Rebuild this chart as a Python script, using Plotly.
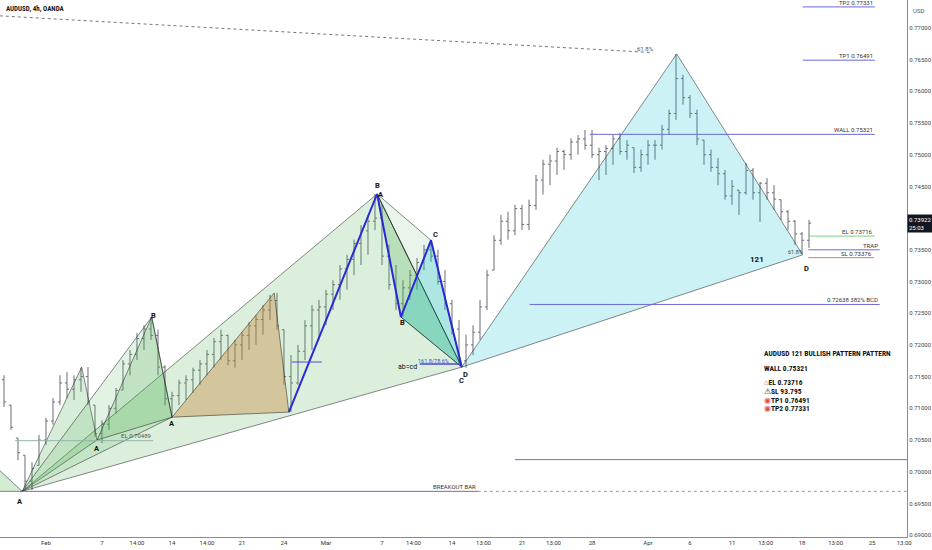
import plotly.graph_objects as go

BAR_IDX = list(range(117))
OPEN = [0.7180, 0.7145, 0.7105, 0.7053, 0.7026, 0.6985, 0.7010, 0.7050, 0.7080, 0.7110,
        0.7140, 0.7130, 0.7145, 0.7150, 0.7105, 0.7060, 0.7075, 0.7100, 0.7129, 0.7170,
        0.7185, 0.7210, 0.7225, 0.7215, 0.7165, 0.7115, 0.7120, 0.7140, 0.7145, 0.7160,
        0.7170, 0.7185, 0.7205, 0.7215, 0.7175, 0.7200, 0.7215, 0.7230, 0.7240, 0.7255,
        0.7270, 0.7224, 0.7150, 0.7140, 0.7190, 0.7230, 0.7255, 0.7260, 0.7280, 0.7295,
        0.7320, 0.7335, 0.7360, 0.7380, 0.7395, 0.7400, 0.7340, 0.7295, 0.7265, 0.7290,
        0.7310, 0.7330, 0.7350, 0.7340, 0.7300, 0.7265, 0.7225, 0.7175, 0.7200, 0.7220,
        0.7260, 0.7318, 0.7365, 0.7395, 0.7380, 0.7415, 0.7390, 0.7420, 0.7460, 0.7485,
        0.7490, 0.7505, 0.7500, 0.7520, 0.7525, 0.7515, 0.7500, 0.7505, 0.7510, 0.7525,
        0.7505, 0.7511, 0.7480, 0.7500, 0.7515, 0.7515, 0.7540, 0.7565, 0.7620, 0.7590,
        0.7565, 0.7523, 0.7500, 0.7480, 0.7470, 0.7435, 0.7444, 0.7440, 0.7475, 0.7440,
        0.7455, 0.7440, 0.7429, 0.7410, 0.7395, 0.7375, 0.7365]
HIGH = [0.7192, 0.7152, 0.7105, 0.7053, 0.7026, 0.7015, 0.7058, 0.7085, 0.7116, 0.7152,
        0.7157, 0.7152, 0.7164, 0.7165, 0.7105, 0.7081, 0.7105, 0.7132, 0.7176, 0.7192,
        0.7219, 0.7231, 0.7244, 0.7224, 0.7168, 0.7126, 0.7145, 0.7152, 0.7164, 0.7176,
        0.7192, 0.7211, 0.7224, 0.7216, 0.7208, 0.7220, 0.7236, 0.7247, 0.7263, 0.7279,
        0.7282, 0.7224, 0.7184, 0.7200, 0.7239, 0.7263, 0.7271, 0.7287, 0.7302, 0.7326,
        0.7342, 0.7366, 0.7389, 0.7405, 0.7438, 0.7421, 0.7358, 0.7326, 0.7302, 0.7318,
        0.7337, 0.7358, 0.7366, 0.7350, 0.7318, 0.7271, 0.7239, 0.7216, 0.7231, 0.7271,
        0.7318, 0.7373, 0.7405, 0.7410, 0.7421, 0.7421, 0.7429, 0.7468, 0.7492, 0.7500,
        0.7511, 0.7508, 0.7526, 0.7531, 0.7539, 0.7539, 0.7511, 0.7515, 0.7531, 0.7534,
        0.7523, 0.7511, 0.7508, 0.7523, 0.7523, 0.7547, 0.7571, 0.7659, 0.7626, 0.7594,
        0.7571, 0.7523, 0.7508, 0.7495, 0.7476, 0.7460, 0.7444, 0.7487, 0.7479, 0.7457,
        0.7463, 0.7452, 0.7429, 0.7413, 0.7397, 0.7378, 0.7397]
LOW = [0.7137, 0.7102, 0.7066, 0.7018, 0.6974, 0.6971, 0.7010, 0.7042, 0.7074, 0.7105,
       0.7116, 0.7113, 0.7126, 0.7105, 0.7055, 0.7045, 0.7066, 0.7092, 0.7129, 0.7152,
       0.7176, 0.7192, 0.7208, 0.7152, 0.7105, 0.7085, 0.7105, 0.7113, 0.7124, 0.7137,
       0.7152, 0.7164, 0.7176, 0.7168, 0.7164, 0.7176, 0.7192, 0.7200, 0.7216, 0.7239,
       0.7224, 0.7137, 0.7094, 0.7137, 0.7176, 0.7192, 0.7208, 0.7231, 0.7255, 0.7271,
       0.7287, 0.7310, 0.7326, 0.7342, 0.7381, 0.7326, 0.7287, 0.7255, 0.7244, 0.7271,
       0.7287, 0.7318, 0.7331, 0.7295, 0.7255, 0.7216, 0.7168, 0.7164, 0.7184, 0.7208,
       0.7255, 0.7318, 0.7358, 0.7366, 0.7373, 0.7381, 0.7381, 0.7413, 0.7437, 0.7452,
       0.7468, 0.7476, 0.7492, 0.7500, 0.7508, 0.7495, 0.7460, 0.7468, 0.7484, 0.7500,
       0.7492, 0.7471, 0.7473, 0.7484, 0.7492, 0.7508, 0.7531, 0.7555, 0.7579, 0.7558,
       0.7515, 0.7484, 0.7473, 0.7452, 0.7429, 0.7421, 0.7405, 0.7437, 0.7429, 0.7394,
       0.7429, 0.7413, 0.7397, 0.7381, 0.7358, 0.7345, 0.7353]
CLOSE = [0.7145, 0.7110, 0.7070, 0.7030, 0.6985, 0.7005, 0.7050, 0.7080, 0.7110, 0.7140,
         0.7130, 0.7145, 0.7150, 0.7110, 0.7060, 0.7075, 0.7100, 0.7128, 0.7170, 0.7185,
         0.7210, 0.7225, 0.7215, 0.7165, 0.7115, 0.7120, 0.7140, 0.7145, 0.7160, 0.7170,
         0.7185, 0.7205, 0.7215, 0.7175, 0.7200, 0.7215, 0.7230, 0.7240, 0.7255, 0.7270,
         0.7230, 0.7150, 0.7140, 0.7190, 0.7230, 0.7255, 0.7260, 0.7280, 0.7295, 0.7320,
         0.7335, 0.7360, 0.7380, 0.7395, 0.7400, 0.7340, 0.7295, 0.7265, 0.7290, 0.7310,
         0.7330, 0.7350, 0.7340, 0.7300, 0.7265, 0.7225, 0.7175, 0.7200, 0.7220, 0.7260,
         0.7310, 0.7365, 0.7395, 0.7380, 0.7415, 0.7390, 0.7420, 0.7460, 0.7485, 0.7490,
         0.7505, 0.7500, 0.7520, 0.7525, 0.7515, 0.7500, 0.7505, 0.7510, 0.7525, 0.7505,
         0.7515, 0.7480, 0.7500, 0.7515, 0.7515, 0.7540, 0.7565, 0.7620, 0.7590, 0.7565,
         0.7525, 0.7500, 0.7480, 0.7470, 0.7435, 0.7450, 0.7440, 0.7475, 0.7440, 0.7455,
         0.7440, 0.7430, 0.7410, 0.7395, 0.7375, 0.7365, 0.7392]
LAST_PRICE = 0.73922

TIME_TICKS = [7, 15, 20, 25, 30, 35, 41, 47, 55, 59.5, 65, 69.5, 75, 79.5, 85, 93,
              99, 105, 109.8, 115, 119.8, 125, 129.6]
TIME_LABELS = ["Feb", "7", "14:00", "14", "14:00", "21", "24", "Mar", "7", "14:00", "14",
               "13:00", "21", "13:00", "28", "Apr", "6", "11", "13:00", "18", "13:00",
               "25", "13:00"]
PRICE_TICKS = [0.690, 0.695, 0.700, 0.705, 0.710, 0.715, 0.720, 0.725, 0.730, 0.735,
               0.740, 0.745, 0.750, 0.755, 0.760, 0.765, 0.770]

# pattern pivots (bar index, price)
A0 = (3.6, 0.6969)
EDGE_HI, EDGE_LO = (0.0, 0.7006), (0.0, 0.6969)
P1, A1 = (12.1, 0.7165), (14.3, 0.7050)
B1, A2 = (22.1, 0.7244), (25.0, 0.7086)
T_PEAK, T_LOW = (39.6, 0.7282), (41.7, 0.7094)
XP, BP, CP, DP = (54.3, 0.7438), (57.7, 0.7244), (62.0, 0.7365), (66.4, 0.7165)
TOP, D121 = (97.1, 0.7659), (115.1, 0.7342)

# horizontal levels
LEVEL_PRICE = [0.77331, 0.76491, 0.75321, 0.73716, 0.73500, 0.73376, 0.72638, 0.70190, 0.69690]
LEVEL_FROM = [115.1, 115.1, 84.7, 115.9, 115.9, 115.9, 76.1, 74.0, 3.3]
LEVEL_TO = [125.4, 125.4, 125.4, 125.4, 126.1, 125.3, 126.1, 130.0, 68.7]
LEVEL_TEXT = ["TP2 0.77331", "TP1 0.76491", "WALL 0.75321", "EL 0.73716", "TRAP",
              "SL 0.73376", "0.72638 382% BCD", "", "BREAKOUT BAR"]
LEVEL_KIND = ["blue", "blue", "blue", "green", "blue", "red", "blue", "blue", "blue"]

FIB_LINE_X, FIB_LINE_Y = [0.4, 93.7], [0.7719, 0.7661]
EL_OLD_X, EL_OLD_Y = [2.6, 22.3], [0.70489, 0.70489]

PIVOT_TEXT = ["A", "A", "B", "A", "B", "A", "C", "B", "D", "C", "D"]
PIVOT_X = [3.3, 14.3, 22.4, 25.0, 54.3, 54.9, 62.6, 58.0, 66.9, 66.4, 115.6]
PIVOT_Y = [0.6953, 0.7037, 0.7246, 0.7076, 0.7452, 0.7437, 0.7374, 0.7235, 0.7154, 0.7144, 0.7321]

BLUE = "#4a4ad6"
KIND_COLOR = {"blue": "#6a6ad8", "green": "#7fd07f", "red": "#f07070"}
GREEN = "rgba(76,175,80,{})"
CYAN = "rgba(0,188,212,{})"
EDGE = dict(color="rgba(30,30,30,0.75)", width=0.7)
FONT = "Roboto"
NARROW = "Liberation Sans Narrow, Roboto Condensed, Roboto"


def polygon(points, fill):
    xs = [p[0] for p in points] + [points[0][0]]
    ys = [p[1] for p in points] + [points[0][1]]
    return go.Scatter(x=xs, y=ys, mode="lines", fill="toself", fillcolor=fill,
                      line=EDGE, hoverinfo="skip", showlegend=False)


fig = go.Figure()

for pts, fill in [
    ([A0, XP, DP], GREEN.format(0.2)),
    ([EDGE_HI, A0, EDGE_LO], GREEN.format(0.25)),
    ([A0, P1, A1], GREEN.format(0.22)),
    ([A0, B1, A2], GREEN.format(0.16)),
    ([A1, B1, A2], GREEN.format(0.22)),
    ([A2, T_PEAK, T_LOW], "rgba(200,135,60,0.4)"),
    ([XP, CP, DP], GREEN.format(0.12)),
    ([XP, BP, DP], GREEN.format(0.25)),
    ([BP, CP, DP], CYAN.format(0.25)),
    ([DP, TOP, D121], CYAN.format(0.2)),
]:
    fig.add_trace(polygon(pts, fill))

fig.add_trace(go.Ohlc(
    x=BAR_IDX, open=OPEN, high=HIGH, low=LOW, close=CLOSE,
    increasing_line_color="#6a6d78", decreasing_line_color="#6a6d78",
    line_width=1, tickwidth=0.3, hoverinfo="skip", showlegend=False,
))

zig = [T_LOW, XP, BP, CP, DP]
fig.add_trace(go.Scatter(x=[p[0] for p in zig], y=[p[1] for p in zig], mode="lines",
                         line=dict(color="#2a2ad6", width=2), hoverinfo="skip", showlegend=False))

fig.add_trace(go.Scatter(x=FIB_LINE_X, y=FIB_LINE_Y, mode="lines",
                         line=dict(color="#777", width=1, dash="dot"), hoverinfo="skip", showlegend=False))
fig.add_trace(go.Scatter(x=EL_OLD_X, y=EL_OLD_Y, mode="lines",
                         line=dict(color="#8fb5a8", width=1), hoverinfo="skip", showlegend=False))
fig.add_trace(go.Scatter(x=[42.1, 46.4], y=[0.7173, 0.7173], mode="lines",
                         line=dict(color=BLUE, width=1), hoverinfo="skip", showlegend=False))
fig.add_trace(go.Scatter(x=[60.4, 66.1], y=[0.7170, 0.7170], mode="lines",
                         line=dict(color=BLUE, width=1.5), hoverinfo="skip", showlegend=False))
fig.add_trace(go.Scatter(x=[LEVEL_TO[-1], 130], y=[LEVEL_PRICE[-1]] * 2, mode="lines",
                         line=dict(color="#999", width=1, dash="dot"), hoverinfo="skip", showlegend=False))

for price, x0, x1, label, kind in zip(LEVEL_PRICE, LEVEL_FROM, LEVEL_TO, LEVEL_TEXT, LEVEL_KIND):
    fig.add_trace(go.Scatter(x=[x0, x1], y=[price, price], mode="lines",
                             line=dict(color=KIND_COLOR[kind], width=1), hoverinfo="skip", showlegend=False))
    if label:
        fig.add_annotation(x=x1, y=price, text=label, showarrow=False, xanchor="right",
                           yanchor="bottom", yshift=-1, font=dict(size=6, color="#333"))

fig.add_annotation(x=EL_OLD_X[1], y=EL_OLD_Y[1], text="EL 0.70489", showarrow=False,
                   xanchor="right", yanchor="bottom", font=dict(size=6, color="#555"))

for txt, x, y in zip(PIVOT_TEXT, PIVOT_X, PIVOT_Y):
    fig.add_annotation(x=x, y=y, text=f"<b>{txt}</b>", showarrow=False, font=dict(size=7.5, color="#111"))

fig.add_annotation(x=108.6, y=0.7334, text="<b>121</b>", showarrow=False, font=dict(size=8, color="#111"))
fig.add_annotation(x=92.6, y=0.7668, text="61.8%", showarrow=False, font=dict(size=6, color="#555"))
fig.add_annotation(x=114.0, y=0.7346, text="61.8%", showarrow=False, font=dict(size=5.5, color="#444"))
fig.add_annotation(x=58.6, y=0.7165, text="ab=cd", showarrow=False, font=dict(size=7, color="#111"))
fig.add_annotation(x=62.3, y=0.7175, text="161.8/78.6%", showarrow=False, font=dict(size=5.5, color=BLUE))

# summary block
SUMMARY = [
    ("<b>AUDUSD 121 BULLISH PATTERN PATTERN</b>", 0.7187),
    ("<b>WALL 0.75321</b>", 0.7162),
    ("<span style='color:#a0522d'>⌂</span><b>EL 0.73716</b>", 0.7140),
    ("⚠<b>SL 93.795</b>", 0.7126),
    ("<span style='color:#d9534f'>◉</span><b>TP1 0.76491</b>", 0.7113),
    ("<span style='color:#d9534f'>◉</span><b>TP2 0.77331</b>", 0.7099),
]
for txt, y in SUMMARY:
    fig.add_annotation(x=109.3, y=y, text=txt, showarrow=False, xanchor="left",
                       font=dict(family=NARROW, size=7.5, color="#111"))

fig.add_annotation(xref="paper", yref="paper", x=0.004, y=0.995, text="<b>AUDUSD, 4h, OANDA</b>",
                   showarrow=False, xanchor="left", yanchor="top",
                   font=dict(family=NARROW, size=7, color="#131722"))
fig.add_annotation(xref="paper", yref="paper", x=1.004, y=0.99, text="USD", showarrow=False,
                   xanchor="left", yanchor="top", font=dict(size=6, color="#555"))
fig.add_annotation(xref="paper", x=1.0, y=LAST_PRICE, text="0.73922<br>25:03", showarrow=False,
                   xanchor="left", bgcolor="#131722", borderpad=1, align="left",
                   font=dict(size=6, color="white"))

fig.update_layout(
    width=932, height=550,
    margin=dict(l=0, r=25, t=0, b=13),
    plot_bgcolor="white", paper_bgcolor="white",
    font=dict(family=FONT, size=7, color="#131722"),
    showlegend=False,
    xaxis=dict(range=[0.43, 130], tickvals=TIME_TICKS, ticktext=TIME_LABELS,
               showgrid=False, zeroline=False, showline=True, linecolor="#8a8a8a",
               ticks="", tickfont=dict(size=6, color="#333"), rangeslider=dict(visible=False)),
    yaxis=dict(range=[0.6897, 0.7744], side="right", tickvals=PRICE_TICKS,
               ticktext=[f"{v:.5f}" for v in PRICE_TICKS], showgrid=False, zeroline=False,
               showline=True, linecolor="#8a8a8a", ticks="", tickfont=dict(size=6, color="#444")),
)

# the page's default body margin would push the 932x550 figure off the window
fig.write_html("out.html", config={"displayModeBar": False},
               post_script="document.body.style.margin='0';")
